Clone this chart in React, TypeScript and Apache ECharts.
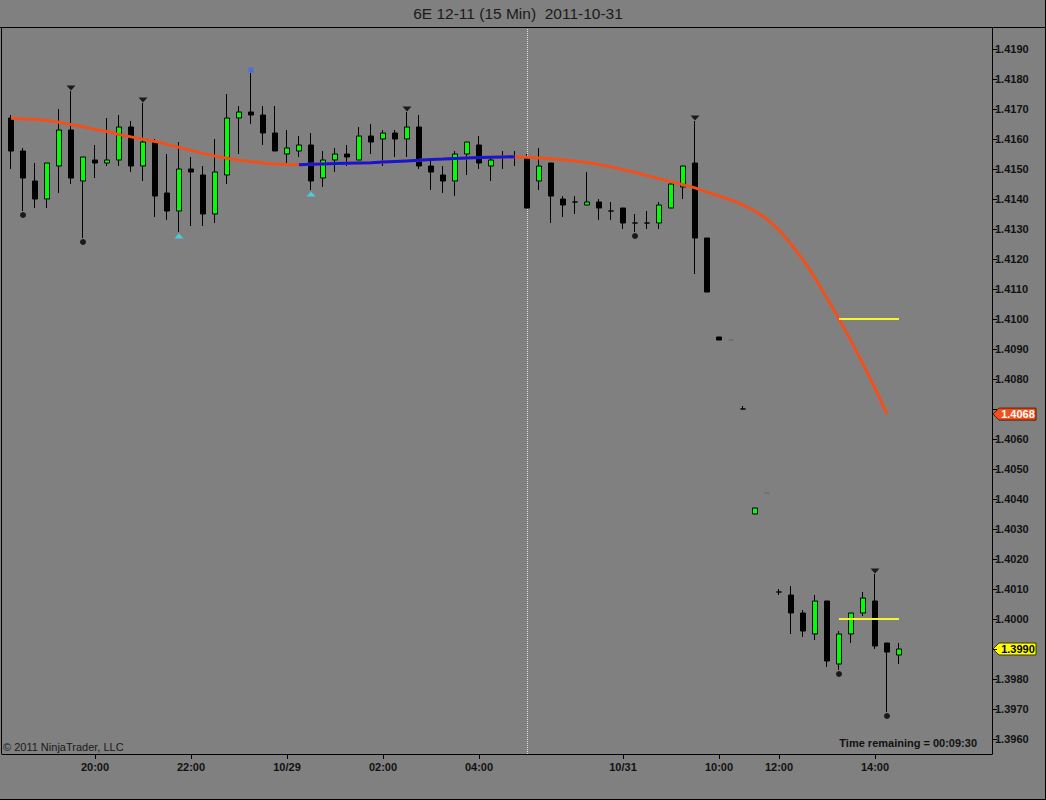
import React, { useEffect, useRef } from 'react';
import * as echarts from 'echarts';

const titleText = '6E 12-11 (15 Min) \u00a02011-10-31';
const copyrightText = '\u00a9 2011 NinjaTrader, LLC';
const timeRemainingText = 'Time remaining = 00:09:30';

// 15-minute bars, index 0..74
const opens = [
  1.4167, 1.4156, 1.4146, 1.4140, 1.4151, 1.4163, 1.4146, 1.4153, 1.4152, 1.4153,
  1.4164, 1.4151, 1.4159, 1.4142, 1.4136, 1.4150, 1.4148, 1.4135, 1.4148, 1.4167,
  1.4169, 1.4168, 1.4162, 1.4155, 1.4156, 1.4158, 1.4147, 1.4153, 1.4155, 1.4153,
  1.4161, 1.4160, 1.4162, 1.4160, 1.4164, 1.4151, 1.4148, 1.4146, 1.4155, 1.4158,
  1.4151, 1.4154, 1.4154, 1.4154, 1.4146, 1.4152, 1.4140, 1.4139, 1.4138, 1.4139,
  1.4136, 1.4137, 1.4132, 1.4132, 1.4132, 1.4137, 1.4144, 1.4152, 1.4127, 1.4094,
  1.4093, 1.4070, 1.4035, 1.4042, 1.4009, 1.4008, 1.4002, 1.3995, 1.4006, 1.3985,
  1.3995, 1.4002, 1.4006, 1.3992, 1.3988,
];
const closes = [
  1.4156, 1.4147, 1.4140, 1.4152, 1.4163, 1.4147, 1.4154, 1.4152, 1.4153, 1.4164,
  1.4151, 1.4159, 1.4141, 1.4136, 1.4150, 1.4149, 1.4135, 1.4149, 1.4167, 1.4169,
  1.4168, 1.4162, 1.4156, 1.4157, 1.4158, 1.4146, 1.4153, 1.4155, 1.4154, 1.4161,
  1.4159, 1.4162, 1.4160, 1.4164, 1.4151, 1.4149, 1.4146, 1.4155, 1.4159, 1.4152,
  1.4153, 1.4154, 1.4154, 1.4137, 1.4151, 1.4141, 1.4138, 1.4139, 1.4139, 1.4137,
  1.4136, 1.4132, 1.4132, 1.4132, 1.4138, 1.4145, 1.4151, 1.4127, 1.4109, 1.4093,
  1.4093, 1.4070, 1.4037, 1.4042, 1.4009, 1.4002, 1.3996, 1.4006, 1.3986, 1.3995,
  1.4002, 1.4007, 1.3991, 1.3989, 1.3990,
];
const lows = [
  1.4150, 1.4136, 1.4137, 1.4137, 1.4142, 1.4145, 1.4127, 1.4147, 1.4151, 1.4151,
  1.4149, 1.4146, 1.4134, 1.4133, 1.4129, 1.4131, 1.4131, 1.4132, 1.4145, 1.4155,
  1.4165, 1.4158, 1.4156, 1.4151, 1.4154, 1.4143, 1.4144, 1.4149, 1.4151, 1.4153,
  1.4155, 1.4151, 1.4154, 1.4154, 1.4150, 1.4143, 1.4142, 1.4141, 1.4148, 1.4150,
  1.4146, 1.4150, 1.4151, 1.4137, 1.4143, 1.4132, 1.4134, 1.4135, 1.4138, 1.4133,
  1.4133, 1.4130, 1.4129, 1.4130, 1.4130, 1.4137, 1.4140, 1.4115, 1.4109, 1.4093,
  1.4093, 1.4070, 1.4035, 1.4042, 1.4008, 1.3995, 1.3994, 1.3993, 1.3984, 1.3983,
  1.3992, 1.4001, 1.3990, 1.3969, 1.3985,
];
const highs = [
  1.4168, 1.4157, 1.4152, 1.4152, 1.4170, 1.4176, 1.4154, 1.4158, 1.4167, 1.4168,
  1.4166, 1.4172, 1.4160, 1.4155, 1.4159, 1.4154, 1.4151, 1.4160, 1.4175, 1.4171,
  1.4182, 1.4171, 1.4171, 1.4163, 1.4161, 1.4162, 1.4156, 1.4157, 1.4158, 1.4164,
  1.4165, 1.4163, 1.4163, 1.4169, 1.4168, 1.4153, 1.4151, 1.4156, 1.4159, 1.4161,
  1.4154, 1.4156, 1.4156, 1.4155, 1.4157, 1.4152, 1.4141, 1.4141, 1.4149, 1.4140,
  1.4139, 1.4137, 1.4135, 1.4136, 1.4139, 1.4145, 1.4151, 1.4166, 1.4127, 1.4094,
  1.4093, 1.4071, 1.4037, 1.4042, 1.4010, 1.4011, 1.4003, 1.4008, 1.4006, 1.3996,
  1.4002, 1.4009, 1.4015, 1.3992, 1.3992,
];

// smoothed trend line, bars 0..73
const trendLine = [
  1.41669, 1.41667, 1.41666, 1.41662, 1.41656, 1.41648, 1.41641, 1.41632, 1.41625, 1.41615,
  1.41607, 1.41599, 1.41592, 1.41582, 1.41572, 1.41562, 1.41552, 1.41543, 1.41536, 1.41529,
  1.41525, 1.41520, 1.41517, 1.41515, 1.41514, 1.41516, 1.41517, 1.41518, 1.41519, 1.41520,
  1.41521, 1.41523, 1.41525, 1.41527, 1.41529, 1.41532, 1.41533, 1.41535, 1.41537, 1.41538,
  1.41539, 1.41540, 1.41541, 1.41539, 1.41537, 1.41534, 1.41531, 1.41527, 1.41522, 1.41515,
  1.41507, 1.41498, 1.41489, 1.41478, 1.41468, 1.41458, 1.41448, 1.41437, 1.41423, 1.41410,
  1.41397, 1.41380, 1.41360, 1.41333, 1.41297, 1.41250, 1.41197, 1.41137, 1.41070, 1.41000,
  1.40927, 1.40850, 1.40770, 1.40683,
];

const xTickIndex = [7, 15, 23, 31, 39, 51, 59, 64, 72];
const xTickText = ['20:00', '22:00', '10/29', '02:00', '04:00', '10/31', '10:00', '12:00', '14:00'];
const yTicks = [
  1.396, 1.397, 1.398, 1.399, 1.400, 1.401, 1.402, 1.403, 1.404, 1.405, 1.406, 1.407,
  1.408, 1.409, 1.410, 1.411, 1.412, 1.413, 1.414, 1.415, 1.416, 1.417, 1.418, 1.419,
];

const swingHighIdx = [5, 11, 33, 57, 72];
const swingLowIdx = [1, 6, 52, 69, 73];
const cyanLowIdx = [14, 25];
const blueHighIdx = [20];
const faintIdx = [60, 63];
const sessionBreakIdx = 43;
const yellowLevels = [1.41, 1.4];
const yellowFrom = 69;
const yellowTo = 74;

const FONT = '"Liberation Sans", Arial, sans-serif';
const BG = '#808080';

export default function App() {
  const ref = useRef<HTMLDivElement>(null);

  useEffect(() => {
    if (!ref.current) return;
    const chart = echarts.init(ref.current, undefined, { renderer: 'svg' });

    const candleData = opens.map((o, i) => {
      const item: any = { value: [i, o, closes[i], lows[i], highs[i]] };
      if (faintIdx.includes(i)) {
        item.itemStyle = { borderColorDoji: '#6c6c6c', borderColor: '#6c6c6c', borderColor0: '#6c6c6c' };
      }
      return item;
    });

    const n = trendLine.length;
    const lastTrend = trendLine[n - 1];
    const lastClose = closes[closes.length - 1];
    // labels hidden behind the price tags on the axis
    const labelTicks = yTicks.filter(
      (v) => Math.abs(v - lastTrend) > 0.0004 && Math.abs(v - lastClose) > 0.0004,
    );

    const orangeData = trendLine.map((v, i) => [i, v]);
    const blueData = trendLine.map((v, i) => {
      const rising = (i > 0 && v > trendLine[i - 1]) || (i < n - 1 && trendLine[i + 1] > v);
      return rising ? [i, v] : [i, null];
    });

    const yellowSeries = yellowLevels.map((lvl, k) => ({
      type: 'line',
      id: 'yellow' + k,
      data: [[yellowFrom, lvl], [yellowTo, lvl]],
      showSymbol: false,
      silent: true,
      z: 6,
      lineStyle: { color: '#f6f62a', width: 2 },
    }));

    chart.setOption({
      animation: false,
      backgroundColor: BG,
      grid: { left: 2, right: 54, top: 28, bottom: 46, show: false },
      xAxis: {
        type: 'value',
        min: -0.75,
        max: 81.75,
        axisLine: { show: true, onZero: false, lineStyle: { color: '#000', width: 1 } },
        axisTick: { show: true, length: 5, customValues: xTickIndex, lineStyle: { color: '#000' } },
        axisLabel: {
          customValues: xTickIndex,
          formatter: (v: number) => {
            const k = xTickIndex.indexOf(Math.round(v));
            return k >= 0 ? xTickText[k] : '';
          },
          color: '#111',
          fontFamily: FONT,
          fontWeight: 'bold',
          fontSize: 11,
          margin: 7,
        },
        splitLine: { show: false },
      },
      yAxis: {
        type: 'value',
        position: 'right',
        min: 1.3955,
        max: 1.4197,
        scale: true,
        axisLine: { show: true, onZero: false, lineStyle: { color: '#000', width: 1 } },
        axisTick: { show: true, length: 5, customValues: yTicks, lineStyle: { color: '#000' } },
        axisLabel: {
          customValues: labelTicks,
          formatter: (v: number) => v.toFixed(4),
          color: '#111',
          fontFamily: FONT,
          fontWeight: 'bold',
          fontSize: 11,
          margin: 3,
        },
        splitLine: { show: false },
      },
      series: [
        {
          type: 'line',
          id: 'sessionBreak',
          data: [],
          z: 1,
          silent: true,
          markLine: {
            silent: true,
            symbol: 'none',
            z: 1,
            label: { show: false },
            lineStyle: { type: 'dotted', color: '#e4e4e4', width: 1 },
            data: [{ xAxis: sessionBreakIdx }],
          },
        },
        {
          type: 'candlestick',
          id: 'candles',
          data: candleData,
          barWidth: 6,
          z: 3,
          itemStyle: {
            color: '#00ff00',
            color0: '#000000',
            borderColor: '#000000',
            borderColor0: '#000000',
            borderColorDoji: '#000000',
            borderWidth: 1,
          },
        },
        {
          type: 'line',
          id: 'trendDown',
          data: orangeData,
          showSymbol: false,
          silent: true,
          z: 5,
          lineStyle: { color: '#f2501a', width: 3 },
        },
        {
          type: 'line',
          id: 'trendUp',
          data: blueData,
          showSymbol: false,
          connectNulls: false,
          silent: true,
          z: 5,
          lineStyle: { color: '#1018d8', width: 3 },
        },
        ...yellowSeries,
        {
          type: 'scatter',
          id: 'swingHigh',
          data: swingHighIdx.map((i) => [i, highs[i]]),
          symbol: 'triangle',
          symbolRotate: 180,
          symbolSize: [9, 5],
          symbolOffset: [0, -3],
          silent: true,
          z: 7,
          itemStyle: { color: '#000' },
        },
        {
          type: 'scatter',
          id: 'swingLow',
          data: swingLowIdx.map((i) => [i, lows[i]]),
          symbol: 'circle',
          symbolSize: 6,
          symbolOffset: [0, 4],
          silent: true,
          z: 7,
          itemStyle: { color: '#000' },
        },
        {
          type: 'scatter',
          id: 'cyanLow',
          data: cyanLowIdx.map((i) => [i, lows[i]]),
          symbol: 'triangle',
          symbolSize: [9, 5],
          symbolOffset: [0, 4],
          silent: true,
          z: 7,
          itemStyle: { color: '#3ee0f0' },
        },
        {
          type: 'scatter',
          id: 'blueHigh',
          data: blueHighIdx.map((i) => [i, highs[i]]),
          symbol: 'rect',
          symbolSize: 5,
          symbolOffset: [0, -3],
          silent: true,
          z: 7,
          itemStyle: { color: '#3a6cf0' },
        },
      ],
    });

    const yTrend = chart.convertToPixel({ yAxisIndex: 0 }, lastTrend) as number;
    const yClose = chart.convertToPixel({ yAxisIndex: 0 }, lastClose) as number;

    const tag = (id: string, y: number, value: number, fill: string, textColor: string, stroke: string) => ({
      type: 'group',
      id,
      z: 100,
      children: [
        {
          type: 'polygon',
          shape: {
            points: [
              [993, y],
              [999, y - 6],
              [1036, y - 6],
              [1036, y + 6],
              [999, y + 6],
            ],
          },
          style: { fill, stroke, lineWidth: 1 },
        },
        {
          type: 'text',
          x: 1018,
          y,
          style: {
            text: value.toFixed(4),
            fill: textColor,
            font: `bold 11px ${FONT}`,
            align: 'center',
            verticalAlign: 'middle',
          },
        },
      ],
    });

    chart.setOption({
      graphic: [
        {
          type: 'text',
          id: 'title',
          x: 518,
          y: 13,
          style: {
            text: titleText,
            fill: '#1a1a1a',
            font: `15.5px ${FONT}`,
            align: 'center',
            verticalAlign: 'middle',
          },
        },
        {
          type: 'line',
          id: 'topLine',
          shape: { x1: 0, y1: 27.5, x2: 1046, y2: 27.5 },
          style: { stroke: '#000', lineWidth: 1 },
        },
        {
          type: 'line',
          id: 'leftLine',
          shape: { x1: 1.5, y1: 27, x2: 1.5, y2: 754 },
          style: { stroke: '#000', lineWidth: 1 },
        },
        {
          type: 'line',
          id: 'outerRight',
          shape: { x1: 1045.5, y1: 0, x2: 1045.5, y2: 800 },
          style: { stroke: '#000', lineWidth: 1 },
        },
        {
          type: 'line',
          id: 'outerBottom',
          shape: { x1: 0, y1: 799.5, x2: 1046, y2: 799.5 },
          style: { stroke: '#000', lineWidth: 1 },
        },
        {
          type: 'text',
          id: 'copyright',
          x: 3,
          y: 747,
          style: {
            text: copyrightText,
            fill: '#1a1a1a',
            font: `11px ${FONT}`,
            align: 'left',
            verticalAlign: 'middle',
          },
        },
        {
          type: 'text',
          id: 'timeRemaining',
          x: 977,
          y: 743,
          style: {
            text: timeRemainingText,
            fill: '#111',
            font: `bold 11px ${FONT}`,
            align: 'right',
            verticalAlign: 'middle',
          },
        },
        tag('tagTrend', yTrend, lastTrend, '#f2501a', '#ffffff', '#5a1a00'),
        tag('tagClose', yClose, lastClose, '#ffff00', '#000000', '#3a3a00'),
      ],
    });

    return () => chart.dispose();
  }, []);

  return (
    <div
      ref={ref}
      style={{ position: 'fixed', left: 0, top: 0, width: 1046, height: 800, background: BG }}
    />
  );
}
